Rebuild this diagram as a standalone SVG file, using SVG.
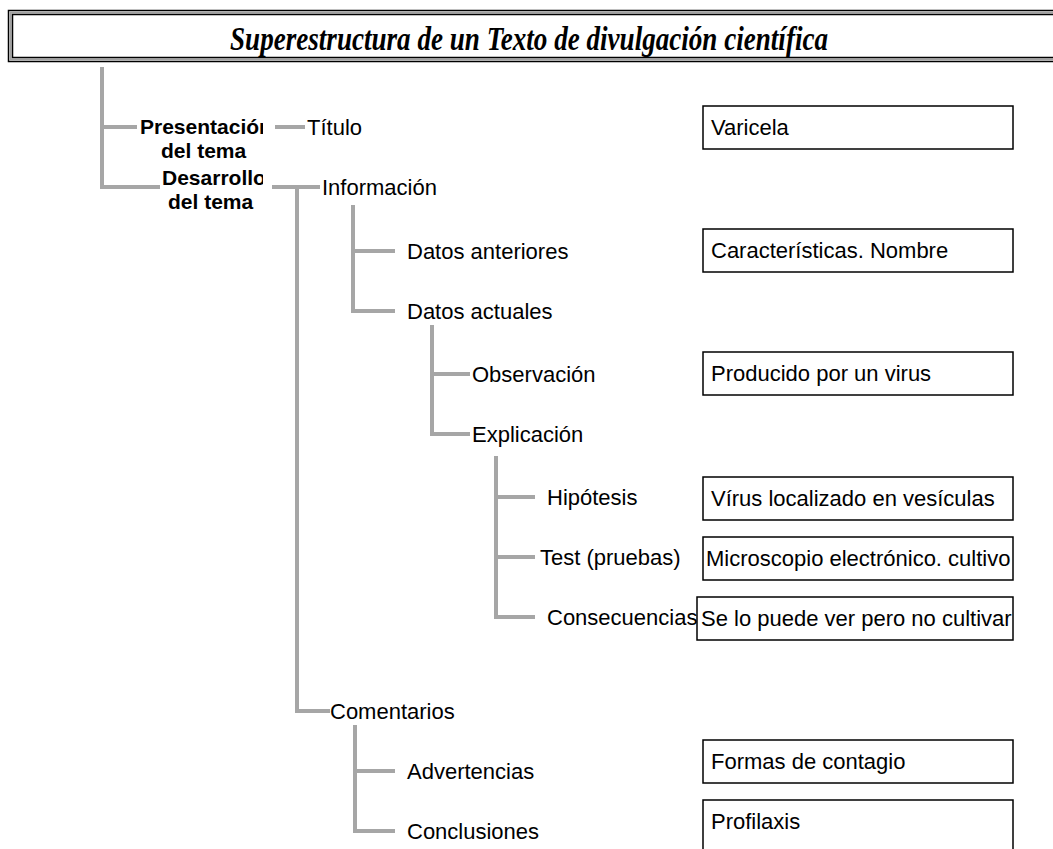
<svg xmlns="http://www.w3.org/2000/svg" width="1053" height="849" viewBox="0 0 1053 849">
<style>
.t{font-family:"Liberation Sans",Arial,sans-serif;font-size:22px;fill:#000}
.b{font-family:"Liberation Sans",Arial,sans-serif;font-size:21px;font-weight:bold;fill:#000}
.title{font-family:"Liberation Serif","Times New Roman",serif;font-size:34px;font-weight:bold;font-style:italic;fill:#000}
.box{fill:#fff;stroke:#000;stroke-width:1.5}
.c{fill:none;stroke:#a6a6a6;stroke-width:4;stroke-linecap:butt}
</style>
<defs>
<clipPath id="clipP"><rect x="100" y="100" width="163" height="70"/></clipPath>
<clipPath id="clipD"><rect x="100" y="160" width="163" height="60"/></clipPath>
</defs>
<rect width="1053" height="849" fill="#fff"/>
<g id="title">
<rect x="8.5" y="10.5" width="1060" height="51" fill="none" stroke="#000" stroke-width="1.5"/>
<rect x="10.5" y="12.5" width="1060" height="47" fill="none" stroke="#a0a0a0" stroke-width="2"/>
<rect x="12.5" y="14.5" width="1060" height="43" fill="none" stroke="#000" stroke-width="1.5"/>
<text class="title" x="230" y="50" textLength="598" lengthAdjust="spacingAndGlyphs">Superestructura de un Texto de divulgación científica</text>
</g>
<g id="connectors">
<path class="c" d="M102 67V187H160M102 127H137"/>
<path class="c" d="M275 127H305"/>
<path class="c" d="M272 187H320M297 187V711H330"/>
<path class="c" d="M353 205V311H395M353 251H395"/>
<path class="c" d="M432 325V434H470M432 374H470"/>
<path class="c" d="M496 456V617H535M496 497H535M496 557H535"/>
<path class="c" d="M355 725V831H395M355 771H395"/>
</g>
<g id="presentacion" clip-path="url(#clipP)"><text class="b" x="140" y="134">Presentación</text><text class="b" x="161" y="158">del tema</text></g>
<g id="desarrollo" clip-path="url(#clipD)"><text class="b" x="162" y="185">Desarrollo</text><text class="b" x="168" y="209">del tema</text></g>
<g id="titulo"><text class="t" x="307" y="135">Título</text></g>
<g id="informacion"><text class="t" x="322" y="195">Información</text></g>
<g id="datos-anteriores"><text class="t" x="407" y="259">Datos anteriores</text></g>
<g id="datos-actuales"><text class="t" x="407" y="319">Datos actuales</text></g>
<g id="observacion"><text class="t" x="472" y="382">Observación</text></g>
<g id="explicacion"><text class="t" x="472" y="442">Explicación</text></g>
<g id="hipotesis"><text class="t" x="547" y="505">Hipótesis</text></g>
<g id="test"><text class="t" x="540" y="565">Test (pruebas)</text></g>
<g id="consecuencias"><text class="t" x="547" y="625">Consecuencias</text></g>
<g id="comentarios"><text class="t" x="330" y="719">Comentarios</text></g>
<g id="advertencias"><text class="t" x="407" y="779">Advertencias</text></g>
<g id="conclusiones"><text class="t" x="407" y="839">Conclusiones</text></g>
<g id="box-varicela"><rect class="box" x="703" y="106" width="310" height="43"/><text class="t" x="711" y="135">Varicela</text></g>
<g id="box-caracteristicas"><rect class="box" x="703" y="229" width="310" height="43"/><text class="t" x="711" y="258">Características. Nombre</text></g>
<g id="box-producido"><rect class="box" x="703" y="352" width="310" height="43"/><text class="t" x="711" y="381">Producido por un virus</text></g>
<g id="box-virus"><rect class="box" x="703" y="477" width="310" height="43"/><text class="t" x="711" y="506">Vírus localizado en vesículas</text></g>
<g id="box-microscopio"><rect class="box" x="703" y="537" width="310" height="43"/><text class="t" x="706" y="566">Microscopio electrónico. cultivo</text></g>
<g id="box-selo"><rect class="box" x="697" y="597" width="316" height="43"/><text class="t" x="701" y="626">Se lo puede ver pero no cultivar</text></g>
<g id="box-formas"><rect class="box" x="703" y="740" width="310" height="43"/><text class="t" x="711" y="769">Formas de contagio</text></g>
<g id="box-profilaxis"><rect class="box" x="703" y="800" width="310" height="60"/><text class="t" x="711" y="829">Profilaxis</text></g>
</svg>
